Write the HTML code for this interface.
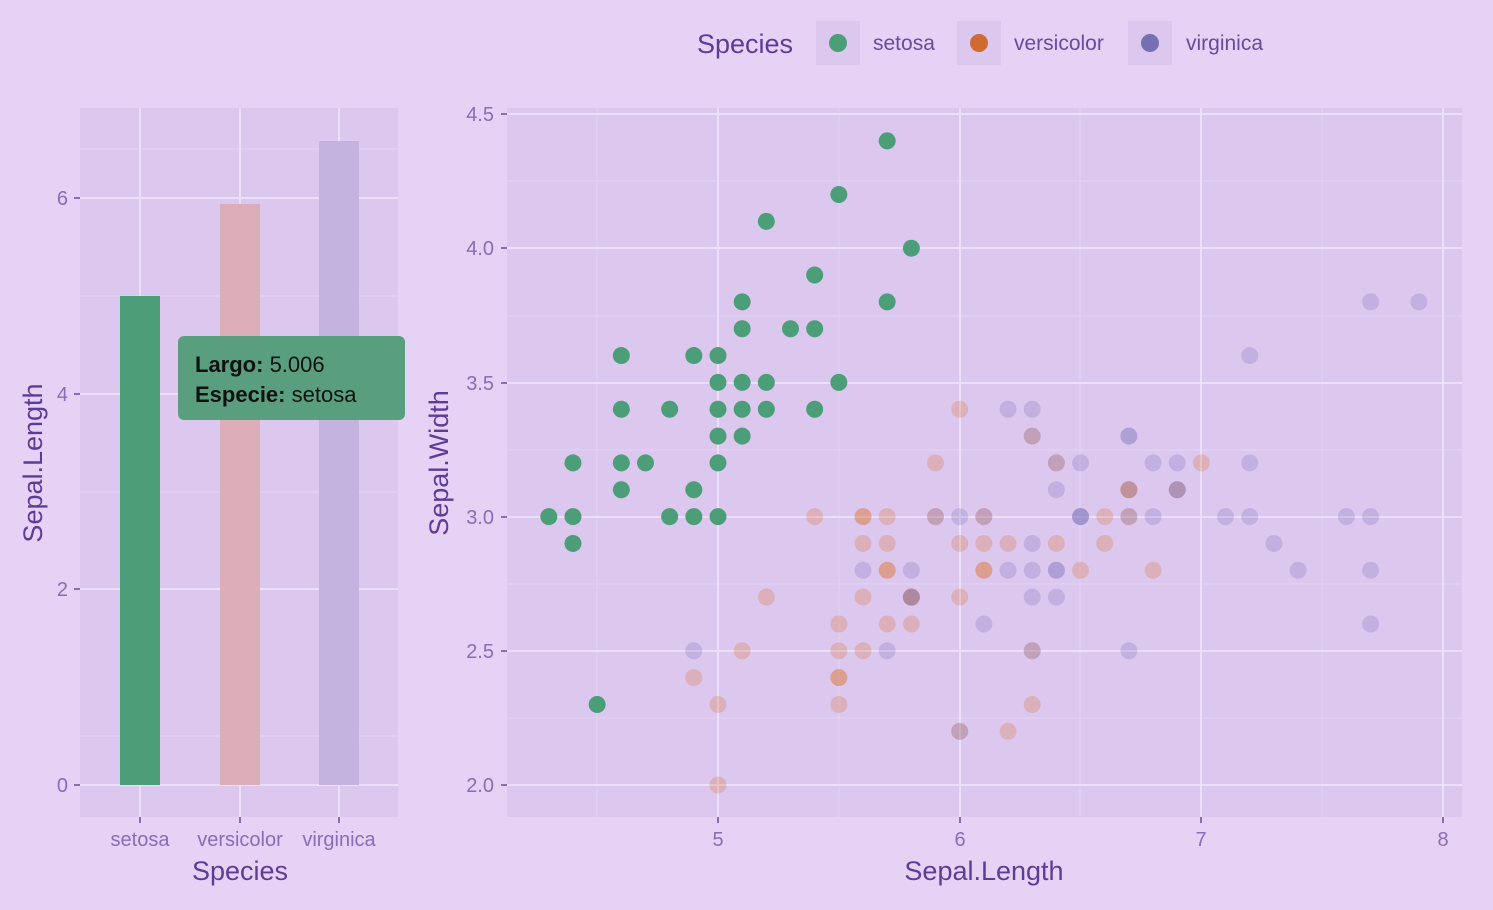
<!DOCTYPE html>
<html><head><meta charset="utf-8"><style>
body{margin:0;background:#e6d2f5;}
svg{display:block;font-family:"Liberation Sans",sans-serif;}
.tk{fill:#8a6cb8;font-size:20px;}
.tt{fill:#5e3b96;font-size:27px;}
.g path{stroke-linecap:round;vector-effect:non-scaling-stroke;stroke-width:17;fill:none;}
.s path{stroke:#4c9e78;}
.v path{stroke:rgba(217,95,2,0.22);}
.r path{stroke:rgba(117,112,179,0.25);}
</style></head><body>
<svg width="1493" height="910" viewBox="0 0 1493 910">
<rect width="1493" height="910" fill="#e6d2f5"/>
<text x="697" y="53" class="tt" style="font-size:27px">Species</text>
<rect x="816" y="21" width="44" height="44" fill="#dcc7ef"/><circle cx="838" cy="43" r="9" fill="#4a9e78"/>
<text x="873" y="50" class="tk" style="fill:#6a4a9e;font-size:21px">setosa</text>
<rect x="957" y="21" width="44" height="44" fill="#dcc7ef"/><circle cx="979" cy="43" r="9" fill="#cf6a30"/>
<text x="1014" y="50" class="tk" style="fill:#6a4a9e;font-size:21px">versicolor</text>
<rect x="1128" y="21" width="44" height="44" fill="#dcc7ef"/><circle cx="1150" cy="43" r="9" fill="#7670b2"/>
<text x="1186" y="50" class="tk" style="fill:#6a4a9e;font-size:21px">virginica</text>

<rect x="80" y="108" width="318" height="709" fill="#dcc7ef"/>
<g stroke="#e6d5f6" stroke-width="1">
<line x1="80" x2="398" y1="736" y2="736"/><line x1="80" x2="398" y1="492" y2="492"/><line x1="80" x2="398" y1="296" y2="296"/><line x1="80" x2="398" y1="149" y2="149"/>
</g>
<g stroke="#ecdffa" stroke-width="2">
<line x1="80" x2="398" y1="785" y2="785"/><line x1="80" x2="398" y1="589" y2="589"/><line x1="80" x2="398" y1="394" y2="394"/><line x1="80" x2="398" y1="198" y2="198"/>
<line x1="140" x2="140" y1="108" y2="817"/><line x1="240" x2="240" y1="108" y2="817"/><line x1="339" x2="339" y1="108" y2="817"/>
</g>
<rect x="120" y="296" width="40" height="489" fill="#4c9e78"/>
<rect x="220" y="204" width="40" height="581" fill="#dcaeb9"/>
<rect x="319" y="141" width="40" height="644" fill="#c4b2df"/>
<g stroke="#8a6cb8" stroke-width="2">
<line x1="74" x2="80" y1="785" y2="785"/><line x1="74" x2="80" y1="589" y2="589"/><line x1="74" x2="80" y1="394" y2="394"/><line x1="74" x2="80" y1="198" y2="198"/>
<line x1="140" x2="140" y1="817" y2="823"/><line x1="240" x2="240" y1="817" y2="823"/><line x1="339" x2="339" y1="817" y2="823"/>
</g>
<g class="tk" text-anchor="end"><text x="68" y="792">0</text><text x="68" y="596">2</text><text x="68" y="401">4</text><text x="68" y="205">6</text></g>
<g class="tk" text-anchor="middle"><text x="140" y="846">setosa</text><text x="240" y="846">versicolor</text><text x="339" y="846">virginica</text></g>
<text x="240" y="880" class="tt" text-anchor="middle">Species</text>
<text transform="translate(42,463) rotate(-90)" class="tt" text-anchor="middle">Sepal.Length</text>
<rect x="178" y="336" width="227" height="84" rx="6" fill="#5a9e80"/>
<text x="195" y="372" style="font-size:22px;fill:#111"><tspan font-weight="bold">Largo:</tspan> 5.006</text>
<text x="195" y="402" style="font-size:22px;fill:#111"><tspan font-weight="bold">Especie:</tspan> setosa</text>

<rect x="507" y="108" width="955" height="709" fill="#dcc7ef"/>
<g stroke="#e4d3f5" stroke-width="1">
<line x1="597" x2="597" y1="108" y2="817"/><line x1="839" x2="839" y1="108" y2="817"/><line x1="1080" x2="1080" y1="108" y2="817"/><line x1="1322" x2="1322" y1="108" y2="817"/>
<line x1="507" x2="1462" y1="718" y2="718"/><line x1="507" x2="1462" y1="584" y2="584"/><line x1="507" x2="1462" y1="450" y2="450"/><line x1="507" x2="1462" y1="316" y2="316"/><line x1="507" x2="1462" y1="181" y2="181"/>
</g>
<g stroke="#ecdffa" stroke-width="2">
<line x1="718" x2="718" y1="108" y2="817"/><line x1="960" x2="960" y1="108" y2="817"/><line x1="1201" x2="1201" y1="108" y2="817"/><line x1="1443" x2="1443" y1="108" y2="817"/>
<line x1="507" x2="1462" y1="785" y2="785"/><line x1="507" x2="1462" y1="651" y2="651"/><line x1="507" x2="1462" y1="517" y2="517"/><line x1="507" x2="1462" y1="383" y2="383"/><line x1="507" x2="1462" y1="248" y2="248"/><line x1="507" x2="1462" y1="114" y2="114"/>
</g>
<g stroke="#8a6cb8" stroke-width="2">
<line x1="501" x2="507" y1="785" y2="785"/><line x1="501" x2="507" y1="651" y2="651"/><line x1="501" x2="507" y1="517" y2="517"/><line x1="501" x2="507" y1="383" y2="383"/><line x1="501" x2="507" y1="248" y2="248"/><line x1="501" x2="507" y1="114" y2="114"/>
<line x1="718" x2="718" y1="817" y2="823"/><line x1="960" x2="960" y1="817" y2="823"/><line x1="1201" x2="1201" y1="817" y2="823"/><line x1="1443" x2="1443" y1="817" y2="823"/>
</g>
<g class="tk" text-anchor="end"><text x="494" y="792">2.0</text><text x="494" y="658">2.5</text><text x="494" y="524">3.0</text><text x="494" y="390">3.5</text><text x="494" y="255">4.0</text><text x="494" y="121">4.5</text></g>
<g class="tk" text-anchor="middle"><text x="718" y="846">5</text><text x="960" y="846">6</text><text x="1201" y="846">7</text><text x="1443" y="846">8</text></g>
<text x="984" y="880" class="tt" text-anchor="middle">Sepal.Length</text>
<text transform="translate(448,463) rotate(-90)" class="tt" text-anchor="middle">Sepal.Width</text>

<g transform="translate(718,785) scale(241.7,-268.4) translate(-5,-2)">
<g class="g v">
<path d="M7.0 3.2h0"/><path d="M6.4 3.2h0"/><path d="M6.9 3.1h0"/><path d="M5.5 2.3h0"/><path d="M6.5 2.8h0"/><path d="M5.7 2.8h0"/><path d="M6.3 3.3h0"/><path d="M4.9 2.4h0"/><path d="M6.6 2.9h0"/><path d="M5.2 2.7h0"/><path d="M5.0 2.0h0"/><path d="M5.9 3.0h0"/><path d="M6.0 2.2h0"/><path d="M6.1 2.9h0"/><path d="M5.6 2.9h0"/><path d="M6.7 3.1h0"/><path d="M5.6 3.0h0"/><path d="M5.8 2.7h0"/><path d="M6.2 2.2h0"/><path d="M5.6 2.5h0"/><path d="M5.9 3.2h0"/><path d="M6.1 2.8h0"/><path d="M6.3 2.5h0"/><path d="M6.1 2.8h0"/><path d="M6.4 2.9h0"/><path d="M6.6 3.0h0"/><path d="M6.8 2.8h0"/><path d="M6.7 3.0h0"/><path d="M6.0 2.9h0"/><path d="M5.7 2.6h0"/><path d="M5.5 2.4h0"/><path d="M5.5 2.4h0"/><path d="M5.8 2.7h0"/><path d="M6.0 2.7h0"/><path d="M5.4 3.0h0"/><path d="M6.0 3.4h0"/><path d="M6.7 3.1h0"/><path d="M6.3 2.3h0"/><path d="M5.6 3.0h0"/><path d="M5.5 2.5h0"/><path d="M5.5 2.6h0"/><path d="M6.1 3.0h0"/><path d="M5.8 2.6h0"/><path d="M5.0 2.3h0"/><path d="M5.6 2.7h0"/><path d="M5.7 3.0h0"/><path d="M5.7 2.9h0"/><path d="M6.2 2.9h0"/><path d="M5.1 2.5h0"/><path d="M5.7 2.8h0"/>
</g>
<g class="g r">
<path d="M6.3 3.3h0"/><path d="M5.8 2.7h0"/><path d="M7.1 3.0h0"/><path d="M6.3 2.9h0"/><path d="M6.5 3.0h0"/><path d="M7.6 3.0h0"/><path d="M4.9 2.5h0"/><path d="M7.3 2.9h0"/><path d="M6.7 2.5h0"/><path d="M7.2 3.6h0"/><path d="M6.5 3.2h0"/><path d="M6.4 2.7h0"/><path d="M6.8 3.0h0"/><path d="M5.7 2.5h0"/><path d="M5.8 2.8h0"/><path d="M6.4 3.2h0"/><path d="M6.5 3.0h0"/><path d="M7.7 3.8h0"/><path d="M7.7 2.6h0"/><path d="M6.0 2.2h0"/><path d="M6.9 3.2h0"/><path d="M5.6 2.8h0"/><path d="M7.7 2.8h0"/><path d="M6.3 2.7h0"/><path d="M6.7 3.3h0"/><path d="M7.2 3.2h0"/><path d="M6.2 2.8h0"/><path d="M6.1 3.0h0"/><path d="M6.4 2.8h0"/><path d="M7.2 3.0h0"/><path d="M7.4 2.8h0"/><path d="M7.9 3.8h0"/><path d="M6.4 2.8h0"/><path d="M6.3 2.8h0"/><path d="M6.1 2.6h0"/><path d="M7.7 3.0h0"/><path d="M6.3 3.4h0"/><path d="M6.4 3.1h0"/><path d="M6.0 3.0h0"/><path d="M6.9 3.1h0"/><path d="M6.7 3.1h0"/><path d="M6.9 3.1h0"/><path d="M5.8 2.7h0"/><path d="M6.8 3.2h0"/><path d="M6.7 3.3h0"/><path d="M6.7 3.0h0"/><path d="M6.3 2.5h0"/><path d="M6.5 3.0h0"/><path d="M6.2 3.4h0"/><path d="M5.9 3.0h0"/>
</g>
<g class="g s">
<path d="M5.1 3.5h0"/><path d="M4.9 3.0h0"/><path d="M4.7 3.2h0"/><path d="M4.6 3.1h0"/><path d="M5.0 3.6h0"/><path d="M5.4 3.9h0"/><path d="M4.6 3.4h0"/><path d="M5.0 3.4h0"/><path d="M4.4 2.9h0"/><path d="M4.9 3.1h0"/><path d="M5.4 3.7h0"/><path d="M4.8 3.4h0"/><path d="M4.8 3.0h0"/><path d="M4.3 3.0h0"/><path d="M5.8 4.0h0"/><path d="M5.7 4.4h0"/><path d="M5.7 3.8h0"/><path d="M5.1 3.8h0"/><path d="M5.4 3.4h0"/><path d="M5.1 3.7h0"/><path d="M4.6 3.6h0"/><path d="M5.1 3.3h0"/><path d="M5.0 3.0h0"/><path d="M5.2 3.5h0"/><path d="M5.2 3.4h0"/><path d="M5.2 4.1h0"/><path d="M5.5 4.2h0"/><path d="M5.0 3.2h0"/><path d="M5.5 3.5h0"/><path d="M4.9 3.6h0"/><path d="M4.4 3.0h0"/><path d="M5.1 3.4h0"/><path d="M5.0 3.5h0"/><path d="M4.5 2.3h0"/><path d="M4.4 3.2h0"/><path d="M4.6 3.2h0"/><path d="M5.3 3.7h0"/><path d="M5.0 3.3h0"/>
</g>
</g>
</svg>
</body></html>
